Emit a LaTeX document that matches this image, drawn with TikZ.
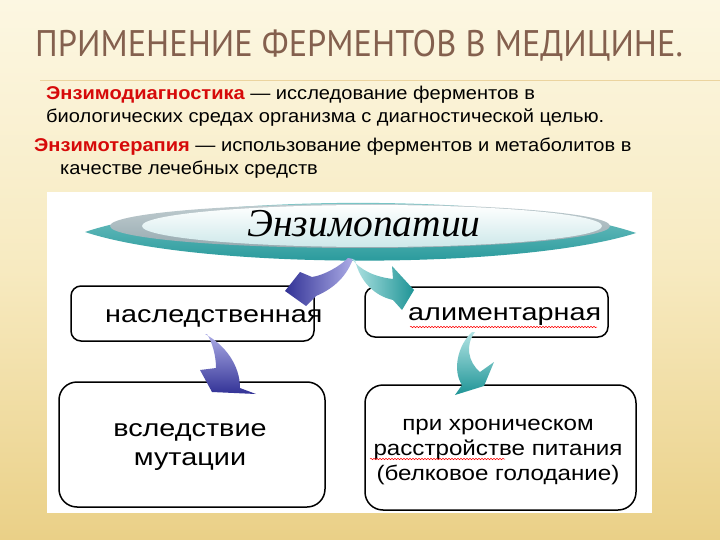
\documentclass[tikz,border=0pt]{standalone}
\usepackage{fontspec}
\setmainfont{Liberation Sans}
\newfontfamily\titlefont[FakeStretch=0.93]{PT Sans}
\newfontfamily\slidefont[FakeStretch=1.085]{Liberation Sans}
\newfontfamily\boxfont[FakeStretch=1.2]{Liberation Sans}
\newfontfamily\smallboxfont[FakeStretch=1.15]{Liberation Sans}
\newfontfamily\ovalfont{Liberation Serif}
\usetikzlibrary{shapes.geometric,decorations.pathmorphing}

\definecolor{titlebrown}{RGB}{132,96,78}
\definecolor{termred}{RGB}{214,10,10}
\definecolor{bgtop}{RGB}{252,247,226}
\definecolor{bgmid}{RGB}{247,234,192}
\definecolor{bgbot}{RGB}{234,208,135}
\definecolor{tealdark}{RGB}{30,148,150}
\definecolor{teallight}{RGB}{178,228,228}
\definecolor{ringgray}{RGB}{150,170,176}
\definecolor{ovallight}{RGB}{205,232,234}
\definecolor{purpledark}{RGB}{50,50,150}
\definecolor{purplelight}{RGB}{172,172,230}

\begin{document}
\begin{tikzpicture}[x=1pt,y=-1pt]
	\tikzstyle{line}=[anchor=base west,inner sep=0pt,font=\slidefont\fontsize{18.5}{22}\selectfont]
	\tikzstyle{box}=[draw=black,line width=1.5pt,fill=white,inner sep=0pt]
	\tikzstyle{boxtext}=[inner sep=0pt,align=center,font=\boxfont\fontsize{24}{29}\selectfont]
	\tikzstyle{fatblue}=[left color=purpledark,right color=purplelight]
	\tikzstyle{fatteal}=[left color=teallight,right color=tealdark]
	\tikzstyle{spell}=[draw=red,line width=0.5pt,decorate,decoration={snake,amplitude=0.7pt,segment length=3pt}]

	% slide
	\useasboundingbox (0,0) rectangle (720,540);
	\fill[top color=bgtop,bottom color=bgbot,middle color=bgmid] (0,0) rectangle (720,540);
	\draw[bgbot!80!brown,line width=1pt,opacity=0.6] (40,81) -- (720,81);

	\node [anchor=base west,inner sep=0pt,text=titlebrown,font=\titlefont\fontsize{37}{40}\selectfont] (title) at (35,57) {ПРИМЕНЕНИЕ ФЕРМЕНТОВ В МЕДИЦИНЕ.};

	\node [line] (l1) at (46,100) {{\color{termred}\bfseries Энзимодиагностика} — исследование ферментов в};
	\node [line] (l2) at (46,123) {биологических средах организма с диагностической целью.};
	\node [line] (l3) at (34,152) {{\color{termred}\bfseries Энзимотерапия} — использование ферментов и метаболитов в};
	\node [line] (l4) at (60,175) {качестве лечебных средств};

	% picture
	\fill[white] (47,192) rectangle (652,513);

	\shade[top color=teallight!70!tealdark,bottom color=tealdark] (85,232) .. controls (200,193) and (520,193) .. (636,233) .. controls (520,270) and (200,270) .. (85,232);
	\shade[top color=ringgray!60,bottom color=ringgray] (360,226) ellipse (250 and 22);
	\node [ellipse,minimum width=460pt,minimum height=42pt,inner sep=0pt,top color=white,bottom color=ovallight] (ovl) at (372,226) {};
	\node [inner sep=0pt,font=\ovalfont\itshape\fontsize{39.5}{40}\selectfont] (ovltext) at (364,224) {Энзимопатии};

	\coordinate (fork) at (350,258);

	\node [box,rounded corners=10pt,minimum width=243pt,minimum height=55pt] (her) at (192.5,313.5) {};
	\node [box,rounded corners=10pt,minimum width=243pt,minimum height=50pt] (ali) at (486.5,312) {};
	\node [box,rounded corners=18pt,minimum width=266pt,minimum height=125pt] (mut) at (192,444.5) {};
	\node [box,rounded corners=18pt,minimum width=271pt,minimum height=125pt] (pit) at (500.5,447.5) {};

	\node [boxtext,anchor=base west] (hertext) at (105,322) {наследственная};
	\node [boxtext,anchor=base west] (alitext) at (408,320) {алиментарная};
	\node [boxtext] (muttext) at (190,447) {вследствие\\мутации};
	\node [boxtext,font=\smallboxfont\fontsize{21}{25}\selectfont] (pittext) at (498,452) {при хроническом\\расстройстве питания\\(белковое голодание)};

	\path[spell] (410,327) -- (597,327);
	\path[spell] (370,459) -- (505,459);

	\coordinate (herfoot) at (205,334);
	\coordinate (alifoot) at (472,332);

	% arrows
	\begin{scope}[shift={(fork)}]
		\shade[fatblue] (-2,0) .. controls (-10,8) and (-25,17) .. (-38,19) -- (-50,14) -- (-65,33) -- (-44,48) -- (-34,38) .. controls (-20,32) and (-5,22) .. (3,1) -- cycle;
		\shade[fatteal] (2,1) .. controls (10,12) and (25,19) .. (43,21) -- (42,8) -- (64,32) -- (52,52) -- (43,42) .. controls (25,38) and (10,24) .. (5,2) -- cycle;
	\end{scope}
	\begin{scope}[shift={(herfoot)}]
		\shade[top color=purplelight,bottom color=purpledark] (0,0) .. controls (20,11) and (35,31) .. (35,54) -- (51,60) -- (7,58) -- (-5,36) -- (11,34) .. controls (11,21) and (7,8) .. (2,0) -- cycle;
	\end{scope}
	\begin{scope}[shift={(alifoot)}]
		\shade[top color=teallight,bottom color=tealdark] (0,0) .. controls (-14,13) and (-20,38) .. (-10,53) -- (-17,63) -- (12,54) -- (22,30) -- (8,40) .. controls (-4,30) and (-7,13) .. (3,0) -- cycle;
	\end{scope}
\end{tikzpicture}
\end{document}
